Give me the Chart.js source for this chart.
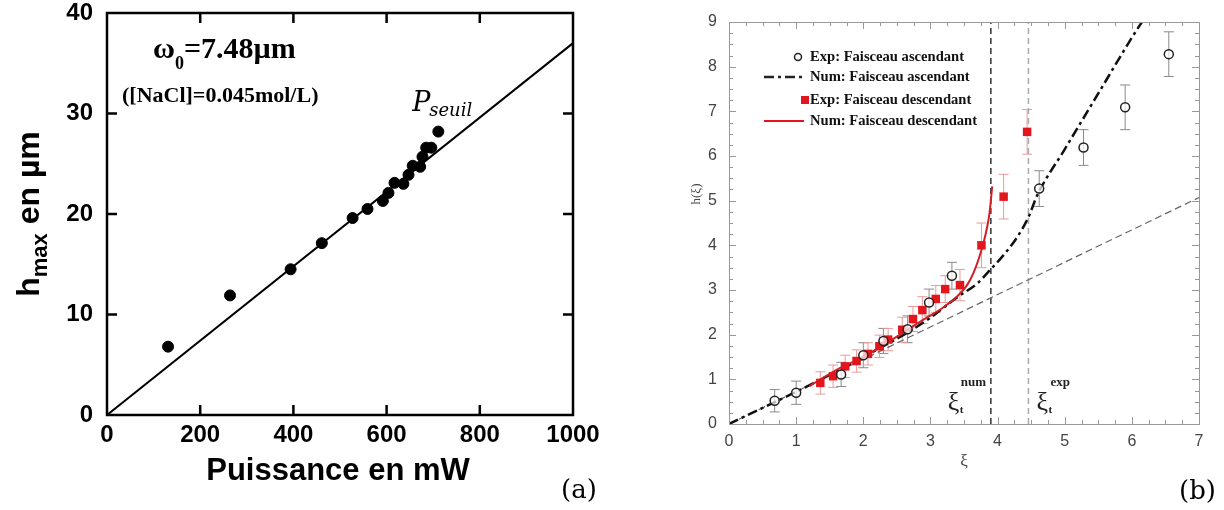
<!DOCTYPE html>
<html>
<head>
<meta charset="utf-8">
<script src="https://cdn.jsdelivr.net/npm/chart.js@4.4.0/dist/chart.umd.min.js"></script>
<style>
body{margin:0;background:#fff;width:1224px;height:510px;position:relative;overflow:hidden}
#wrapA{position:absolute;left:0;top:0;width:612px;height:510px}
#wrapB{position:absolute;left:612px;top:0;width:612px;height:510px}
</style>
</head>
<body>
<div id="wrapA"><canvas id="chartA"></canvas></div>
<div id="wrapB"><canvas id="chartB"></canvas></div>
<script>
/* (a) hauteur max en fonction de la puissance */
var puissance = [131, 264, 394, 461, 527, 559, 592, 604, 617, 636, 647, 656, 672, 677, 685, 696, 711];
var hmax = [6.8, 11.9, 14.5, 17.1, 19.6, 20.5, 21.3, 22.1, 23.1, 23.0, 23.9, 24.8, 24.7, 25.7, 26.6, 26.6, 28.2];
var ajustPuissance = [0, 1000];
var ajustH = [0, 37];
var ticksPuissance = [0, 200, 400, 600, 800, 1000];
var ticksH = [0, 10, 20, 30, 40];

/* (b) h(xi) */
var xiAsc = [0.68, 1.0, 1.67, 2.0, 2.3, 2.66, 2.98, 3.32, 4.62, 5.28, 5.9, 6.55];
var hAsc = [0.52, 0.70, 1.11, 1.54, 1.86, 2.12, 2.72, 3.32, 5.27, 6.19, 7.09, 8.28];
var errAsc = [0.25, 0.26, 0.27, 0.28, 0.28, 0.3, 0.3, 0.3, 0.4, 0.4, 0.5, 0.5];
var xiDesc = [1.36, 1.55, 1.73, 1.90, 2.07, 2.24, 2.37, 2.58, 2.74, 2.88, 3.08, 3.22, 3.44, 3.76, 4.09, 4.44];
var hDesc = [0.92, 1.07, 1.29, 1.41, 1.57, 1.74, 1.89, 2.11, 2.35, 2.55, 2.80, 3.02, 3.11, 4.0, 5.09, 6.54];
var errDesc = [0.25, 0.25, 0.25, 0.25, 0.25, 0.25, 0.25, 0.28, 0.28, 0.3, 0.3, 0.3, 0.35, 0.5, 0.5, 0.5];
var xiNumAsc = [0, 0.5, 1.0, 1.5, 2.0, 2.65, 3.0, 3.4, 3.7, 3.89, 4.1, 4.29, 4.45, 4.6, 5.0, 5.5, 6.0, 6.15];
var hNumAsc = [0, 0.36, 0.72, 1.1, 1.5, 2.04, 2.38, 2.84, 3.15, 3.45, 3.8, 4.18, 4.6, 5.15, 6.15, 7.4, 8.65, 9.0];
var xiNumDesc = [1.2, 1.65, 2.0, 2.4, 2.89, 3.2, 3.4, 3.55, 3.64, 3.72, 3.79, 3.85, 3.88, 3.92];
var hNumDesc = [0.85, 1.25, 1.5, 1.86, 2.33, 2.62, 2.86, 3.12, 3.38, 3.7, 4.05, 4.45, 4.72, 5.32];
var xiLin = [0, 7];
var hLin = [0, 5.07];
var xiSeuilNum = 3.9;
var xiSeuilExp = 4.46;
var legendeB = ['Exp: Faisceau ascendant', 'Num: Faisceau ascendant', 'Exp: Faisceau descendant', 'Num: Faisceau descendant'];

function pts(xs, ys) {
	return xs.map(function(x, i){ return {x: x, y: ys[i]}; });
}

// pas de marge auto autour des etiquettes, la zone de trace est fixee par layout.padding
function sansMarge(s) {
	s.paddingTop = 0; s.paddingBottom = 0; s.paddingLeft = 0; s.paddingRight = 0;
}

var rouge = '#e3161d';

/* cadre noir et graduations internes (a) */
var cadreA = {
	id: 'cadreA',
	afterDatasetsDraw: function(chart) {
		var ctx = chart.ctx, a = chart.chartArea, sx = chart.scales.x, sy = chart.scales.y;
		ctx.save();
		ctx.strokeStyle = '#000';
		ctx.lineWidth = 2.5;
		ctx.strokeRect(a.left, a.top, a.right - a.left, a.bottom - a.top);
		ctx.beginPath();
		ticksPuissance.slice(1, -1).forEach(function(v){
			var px = sx.getPixelForValue(v);
			ctx.moveTo(px, a.bottom); ctx.lineTo(px, a.bottom - 10);
			ctx.moveTo(px, a.top); ctx.lineTo(px, a.top + 10);
		});
		ticksH.slice(1, -1).forEach(function(v){
			var py = sy.getPixelForValue(v);
			ctx.moveTo(a.left, py); ctx.lineTo(a.left + 10, py);
			ctx.moveTo(a.right, py); ctx.lineTo(a.right - 10, py);
		});
		ctx.stroke();

		// textes
		ctx.fillStyle = '#000';
		ctx.textBaseline = 'alphabetic';
		ctx.font = 'bold 30px "Liberation Serif"';
		ctx.fillText('\u03c9', a.left + 46, a.top + 45);
		var wo = ctx.measureText('\u03c9').width;
		ctx.font = 'bold 18px "Liberation Serif"';
		ctx.fillText('0', a.left + 46 + wo, a.top + 56);
		ctx.font = 'bold 30px "Liberation Serif"';
		ctx.fillText('=7.48\u00b5m', a.left + 46 + wo + 9, a.top + 45);
		ctx.font = 'bold 22px "Liberation Serif"';
		ctx.fillText('([NaCl]=0.045mol/L)', a.left + 15, a.top + 89);

		ctx.font = 'italic 27px "DejaVu Serif"';
		var px0 = sx.getPixelForValue(655), py0 = sy.getPixelForValue(30.2);
		ctx.fillText('P', px0, py0);
		ctx.font = 'italic 18px "DejaVu Serif"';
		ctx.fillText('seuil', px0 + 17, py0 + 5);

		ctx.font = 'bold 31px "Liberation Sans"';
		ctx.textAlign = 'center';
		ctx.fillText('Puissance en mW', (a.left + a.right) / 2 - 2, a.bottom + 65);

		ctx.save();
		ctx.translate(a.left - 79, (a.top + a.bottom) / 2);
		ctx.rotate(-Math.PI / 2);
		ctx.textAlign = 'left';
		ctx.font = 'bold 32px "Liberation Sans"';
		var w1 = ctx.measureText('h').width;
		ctx.font = 'bold 22px "Liberation Sans"';
		var w2 = ctx.measureText('max').width;
		ctx.font = 'bold 32px "Liberation Sans"';
		var w3 = ctx.measureText(' en \u00b5m').width;
		var x0 = -(w1 + w2 + w3) / 2;
		ctx.fillText('h', x0, 11);
		ctx.font = 'bold 22px "Liberation Sans"';
		ctx.fillText('max', x0 + w1, 19);
		ctx.font = 'bold 32px "Liberation Sans"';
		ctx.fillText(' en \u00b5m', x0 + w1 + w2, 11);
		ctx.restore();

		ctx.font = '26px "DejaVu Serif"';
		ctx.textAlign = 'left';
		ctx.fillText('(a)', a.right - 12, a.bottom + 83);
		ctx.restore();
	}
};

var chartA = new Chart(document.getElementById('chartA'), {
	type: 'scatter',
	data: {
		datasets: [{
			label: 'mesures',
			data: pts(puissance, hmax),
			pointRadius: 5.5,
			pointHoverRadius: 5.5,
			backgroundColor: '#000',
			borderColor: '#000'
		}, {
			label: 'ajustement',
			data: pts(ajustPuissance, ajustH),
			showLine: true,
			pointRadius: 0,
			borderColor: '#000',
			borderWidth: 2
		}]
	},
	options: {
		animation: false,
		responsive: true,
		maintainAspectRatio: false,
		layout: {padding: {top: 13, right: 39, left: 0, bottom: 0}},
		plugins: {legend: {display: false}, tooltip: {enabled: false}},
		scales: {
			x: {
				type: 'linear', min: 0, max: 1000,
				afterBuildTicks: function(s){ s.ticks = ticksPuissance.map(function(v){ return {value: v}; }); },
				afterFit: function(s){ s.height = 95; sansMarge(s); },
				grid: {display: false, drawTicks: false},
				border: {display: false},
				ticks: {color: '#000', padding: 6, maxRotation: 0, font: {family: 'Liberation Sans', weight: 'bold', size: 24},
					callback: function(v){ return String(v); }}
			},
			y: {
				type: 'linear', min: 0, max: 40,
				afterBuildTicks: function(s){ s.ticks = ticksH.map(function(v){ return {value: v}; }); },
				afterFit: function(s){ s.width = 107; sansMarge(s); },
				grid: {display: false, drawTicks: false},
				border: {display: false},
				ticks: {color: '#000', padding: 14, font: {family: 'Liberation Sans', weight: 'bold', size: 24},
					callback: function(v){ return String(v); }}
			}
		}
	},
	plugins: [cadreA]
});

/* barres d'erreur (b) */
var barresB = {
	id: 'barresB',
	beforeDatasetsDraw: function(chart) {
		var ctx = chart.ctx, sx = chart.scales.x, sy = chart.scales.y;
		function barres(xs, ys, es, couleur) {
			ctx.strokeStyle = couleur;
			ctx.lineWidth = 1;
			ctx.beginPath();
			xs.forEach(function(x, i){
				var px = sx.getPixelForValue(x);
				var ph = sy.getPixelForValue(ys[i] + es[i]);
				var pb = sy.getPixelForValue(ys[i] - es[i]);
				ctx.moveTo(px, ph); ctx.lineTo(px, pb);
				ctx.moveTo(px - 5, ph); ctx.lineTo(px + 5, ph);
				ctx.moveTo(px - 5, pb); ctx.lineTo(px + 5, pb);
			});
			ctx.stroke();
		}
		ctx.save();
		barres(xiAsc, hAsc, errAsc, '#8a8a8a');
		barres(xiDesc, hDesc, errDesc, '#eb9a9a');
		ctx.restore();
	}
};

/* cadre gris, graduations, legende et textes (b) */
var cadreB = {
	id: 'cadreB',
	afterDatasetsDraw: function(chart) {
		var ctx = chart.ctx, a = chart.chartArea, sx = chart.scales.x, sy = chart.scales.y;
		ctx.save();
		ctx.strokeStyle = '#999';
		ctx.lineWidth = 1;
		ctx.strokeRect(a.left + 0.5, a.top + 0.5, a.right - a.left, a.bottom - a.top);
		ctx.beginPath();
		for (var v = 0.25; v < 7; v += 0.25) {
			var px = Math.round(sx.getPixelForValue(v)) + 0.5;
			var l = (v % 1 === 0) ? 7 : 4;
			ctx.moveTo(px, a.bottom); ctx.lineTo(px, a.bottom - l);
			ctx.moveTo(px, a.top); ctx.lineTo(px, a.top + l);
		}
		for (var w = 0.25; w < 9; w += 0.25) {
			var py = Math.round(sy.getPixelForValue(w)) + 0.5;
			var m = (w % 1 === 0) ? 7 : 4;
			ctx.moveTo(a.left, py); ctx.lineTo(a.left + m, py);
			ctx.moveTo(a.right, py); ctx.lineTo(a.right - m, py);
		}
		ctx.stroke();

		// legende
		var lx = a.left + 35, tx = a.left + 81;
		var rows = [a.top + 35, a.top + 55, a.top + 78, a.top + 99];
		ctx.lineWidth = 1.5;
		ctx.strokeStyle = '#222';
		ctx.beginPath(); ctx.arc(a.left + 69, rows[0], 3.5, 0, Math.PI * 2); ctx.stroke();
		ctx.lineWidth = 2.5;
		ctx.setLineDash([10, 4, 3, 4]);
		ctx.beginPath(); ctx.moveTo(lx, rows[1]); ctx.lineTo(lx + 39, rows[1]); ctx.stroke();
		ctx.setLineDash([]);
		ctx.fillStyle = rouge;
		ctx.fillRect(a.left + 72, rows[2] - 4, 8, 8);
		ctx.strokeStyle = rouge;
		ctx.lineWidth = 2;
		ctx.beginPath(); ctx.moveTo(lx, rows[3]); ctx.lineTo(lx + 40, rows[3]); ctx.stroke();
		ctx.fillStyle = '#111';
		ctx.font = 'bold 14.6px "Liberation Serif"';
		ctx.textBaseline = 'middle';
		legendeB.forEach(function(t, i){ ctx.fillText(t, tx, rows[i]); });

		// xi_t
		ctx.textBaseline = 'alphabetic';
		var pn = sx.getPixelForValue(xiSeuilNum), pe = sx.getPixelForValue(xiSeuilExp);
		var yb = a.bottom - 14;
		ctx.fillStyle = '#222';
		ctx.font = '26px "Liberation Serif"';
		ctx.fillText('\u03be', pn - 43, yb);
		ctx.fillText('\u03be', pe + 8, yb);
		ctx.font = 'bold 11px "Liberation Serif"';
		ctx.fillText('t', pn - 31, yb + 3);
		ctx.fillText('t', pe + 20, yb + 3);
		ctx.font = 'bold 13px "Liberation Serif"';
		ctx.fillText('num', pn - 30, yb - 24);
		ctx.fillText('exp', pe + 22, yb - 24);

		// titres
		ctx.fillStyle = '#444';
		ctx.font = '17px "Liberation Serif"';
		ctx.textAlign = 'center';
		ctx.fillText('\u03be', (a.left + a.right) / 2, a.bottom + 42);
		ctx.save();
		ctx.translate(a.left - 29, a.top + 172);
		ctx.rotate(-Math.PI / 2);
		ctx.font = '13px "Liberation Serif"';
		ctx.fillText('h(\u03be)', 0, 0);
		ctx.restore();

		ctx.fillStyle = '#000';
		ctx.font = '26px "DejaVu Serif"';
		ctx.textAlign = 'left';
		ctx.fillText('(b)', a.right - 20, a.bottom + 75);
		ctx.restore();
	}
};

var chartB = new Chart(document.getElementById('chartB'), {
	type: 'scatter',
	data: {
		datasets: [{
			label: legendeB[0],
			data: pts(xiAsc, hAsc),
			pointStyle: 'circle',
			pointRadius: 4.5,
			pointHoverRadius: 4.5,
			borderWidth: 1.5,
			borderColor: '#222',
			backgroundColor: 'rgba(255,255,255,0.7)'
		}, {
			label: legendeB[2],
			data: pts(xiDesc, hDesc),
			pointStyle: 'rect',
			pointRadius: 6,
			pointHoverRadius: 6,
			borderWidth: 0,
			backgroundColor: rouge
		}, {
			label: legendeB[3],
			data: pts(xiNumDesc, hNumDesc),
			showLine: true,
			pointRadius: 0,
			borderColor: '#d21f26',
			borderWidth: 2,
			cubicInterpolationMode: 'monotone'
		}, {
			label: legendeB[1],
			data: pts(xiNumAsc, hNumAsc),
			showLine: true,
			pointRadius: 0,
			borderColor: '#111',
			borderWidth: 2.5,
			borderDash: [10, 4, 3, 4],
			cubicInterpolationMode: 'monotone'
		}, {
			label: 'lineaire',
			data: pts(xiLin, hLin),
			showLine: true,
			pointRadius: 0,
			borderColor: '#666',
			borderWidth: 1.2,
			borderDash: [7, 4]
		}, {
			label: 'xi_t num',
			data: [{x: xiSeuilNum, y: 0}, {x: xiSeuilNum, y: 9}],
			showLine: true,
			pointRadius: 0,
			borderColor: '#333',
			borderWidth: 1.5,
			borderDash: [6, 4]
		}, {
			label: 'xi_t exp',
			data: [{x: xiSeuilExp, y: 0}, {x: xiSeuilExp, y: 9}],
			showLine: true,
			pointRadius: 0,
			borderColor: '#aaa',
			borderWidth: 1.5,
			borderDash: [6, 4]
		}]
	},
	options: {
		animation: false,
		responsive: true,
		maintainAspectRatio: false,
		layout: {padding: {top: 22, right: 25, left: 0, bottom: 0}},
		plugins: {legend: {display: false}, tooltip: {enabled: false}},
		scales: {
			x: {
				type: 'linear', min: 0, max: 7,
				afterFit: function(s){ s.height = 86; sansMarge(s); },
				grid: {display: false, drawTicks: false},
				border: {display: false},
				ticks: {stepSize: 1, color: '#444', padding: 8, maxRotation: 0, font: {family: 'Liberation Sans', size: 16}}
			},
			y: {
				type: 'linear', min: 0, max: 9,
				afterFit: function(s){ s.width = 117; sansMarge(s); },
				grid: {display: false, drawTicks: false},
				border: {display: false},
				ticks: {stepSize: 1, color: '#444', padding: 12, font: {family: 'Liberation Sans', size: 16}}
			}
		}
	},
	plugins: [barresB, cadreB]
});
</script>
</body>
</html>
